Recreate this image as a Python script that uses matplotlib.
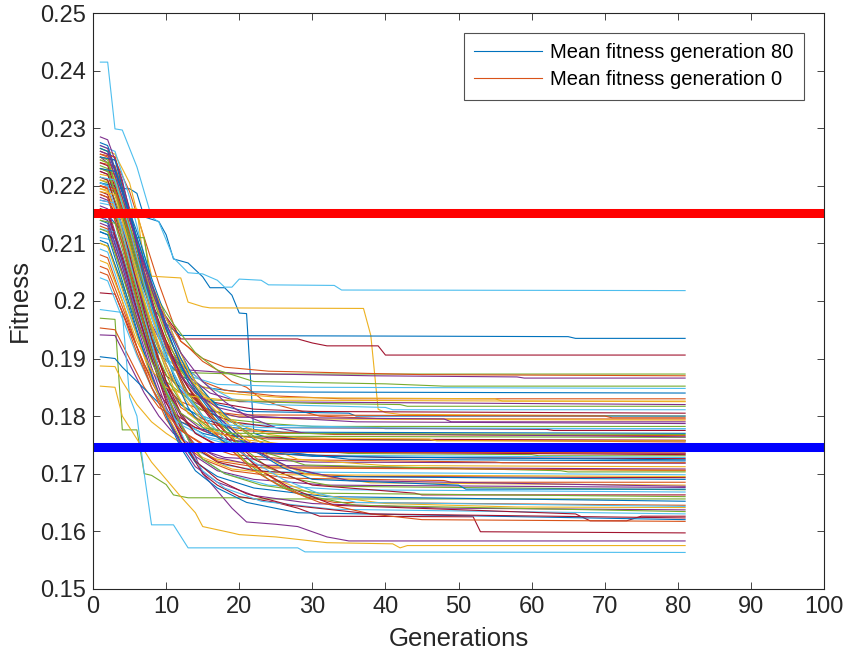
import matplotlib
import matplotlib.pyplot as plt

matplotlib.rcParams['font.family'] = ['Liberation Sans', 'DejaVu Sans']
narrow = ['Liberation Sans Narrow', 'Liberation Sans', 'DejaVu Sans']

# fitness of each run: (generation, best fitness) read at the corners of each trace
runs = [
    [(1, .2205), (3, .2195), (5, .2195), (6, .2187), (7, .2146), (9, .2138), (10, .2115), (11, .2073),
     (13, .2066), (15, .2042), (16, .2023), (18, .2023), (19, .2010), (20, .1979), (21, .1978),
     (22, .1770), (24, .1762), (30, .1760), (45, .1758), (81, .1757)],
    [(1, .2250), (3, .2245), (5, .2190), (7, .2110), (9, .2030), (11, .1960), (12, .1930), (13, .1920),
     (15, .1895), (17, .1880), (19, .1860), (21, .1850), (23, .1830), (25, .1820), (28, .1810),
     (31, .1800), (40, .1795), (81, .1795)],
    [(1, .2265), (3, .2255), (5, .2205), (7, .2105), (8, .2043), (12, .2040), (13, .1998), (15, .1990),
     (16, .1988), (37, .1987), (38, .1940), (39, .1812), (40, .1806), (42, .1803), (81, .1800)],
    [(1, .2250), (3, .2230), (5, .2100), (7, .1990), (9, .1900), (11, .1820), (13, .1760), (15, .1700),
     (17, .1670), (19, .1640), (21, .1616), (25, .1612), (28, .1608), (32, .1590), (35, .1583), (81, .1583)],
    [(1, .1970), (3, .1968), (4, .1776), (6, .1776), (7, .1700), (8, .1697), (10, .1681), (11, .1663),
     (13, .1658), (21, .1658), (22, .1656), (81, .1656)],
    [(1, .2415), (2, .2415), (3, .2299), (4, .2297), (6, .2233), (8, .2146), (9, .2137), (11, .2075),
     (13, .2049), (15, .2047), (17, .2036), (18, .2024), (19, .2024), (20, .2038), (23, .2036),
     (24, .2028), (33, .2027), (34, .2019), (81, .2018)],
    [(1, .2200), (3, .2190), (5, .2120), (7, .2040), (9, .1990), (11, .1955), (12, .1934), (28, .1934),
     (30, .1927), (32, .1922), (39, .1922), (40, .1906), (81, .1906)],
    [(1, .2155), (2, .2150), (4, .2120), (6, .2050), (8, .1990), (10, .1960), (12, .1940), (40, .1939),
     (65, .1938), (66, .1935), (81, .1935)],
    [(1, .1953), (3, .1950), (5, .1900), (7, .1850), (9, .1815), (12, .1790), (16, .1770), (24, .1760), (81, .1755)],
    [(1, .1852), (3, .1850), (4, .1800), (6, .1760), (8, .1720), (10, .1690), (12, .1660), (14, .1632),
     (15, .1608), (19, .1597), (20, .1594), (25, .1590), (32, .1580), (41, .1578), (42, .1571),
     (43, .1575), (81, .1575)],
    [(1, .1941), (3, .1940), (5, .1890), (7, .1840), (9, .1800), (11, .1770), (14, .1745), (18, .1728),
     (30, .1720), (81, .1718)],
    [(1, .2265), (2, .2260), (4, .2200), (5, .2120), (7, .2000), (9, .1920), (11, .1880), (14, .1875),
     (20, .1873), (81, .1873)],
    [(1, .1985), (4, .1980), (5, .1833), (6, .1800), (7, .1700), (8, .1611), (11, .1611), (13, .1571),
     (28, .1571), (29, .1564), (81, .1563)],
    [(1, .2230), (3, .2220), (5, .2100), (7, .1980), (9, .1880), (11, .1800), (13, .1740), (15, .1700),
     (17, .1680), (20, .1660), (25, .1650), (28, .1640), (31, .1626), (52, .1625), (53, .1599), (81, .1597)],
    [(1, .1903), (3, .1900), (4, .1885), (6, .1860), (8, .1835), (10, .1810), (12, .1790), (15, .1770),
     (20, .1755), (30, .1745), (50, .1742), (81, .1740)],
    [(1, .2240), (3, .2235), (5, .2150), (7, .2050), (9, .1990), (12, .1930), (15, .1900), (18, .1885),
     (24, .1878), (45, .1872), (81, .1870)],
    [(1, .1887), (3, .1886), (4, .1860), (6, .1820), (8, .1790), (10, .1770), (13, .1745), (17, .1725),
     (24, .1712), (81, .1705)],
    [(1, .2180), (2, .2175), (4, .2120), (6, .2030), (8, .1960), (10, .1910), (13, .1880), (20, .1874),
     (38, .1870), (58, .1868), (59, .1866), (81, .1866)],
    [(1, .2210), (3, .2200), (5, .2130), (7, .2060), (9, .2000), (11, .1960), (14, .1910), (17, .1880),
     (22, .1860), (40, .1856), (48, .1852), (81, .1852)],
    [(1, .2150), (2, .2140), (4, .2080), (6, .2000), (8, .1940), (10, .1900), (13, .1870), (17, .1855),
     (30, .1850), (81, .1848)],
    [(1, .2014), (3, .2012), (5, .1950), (7, .1890), (9, .1840), (11, .1805), (14, .1780), (19, .1765),
     (35, .1760), (81, .1758)],
    [(1, .2120), (3, .2110), (5, .2020), (7, .1960), (9, .1910), (12, .1870), (15, .1850), (20, .1842), (81, .1840)],
    [(1, .2255), (2, .2250), (4, .2180), (6, .2080), (8, .1990), (10, .1930), (12, .1890), (15, .1860),
     (18, .1845), (25, .1835), (34, .1830), (81, .1830)],
    [(1, .2195), (3, .2190), (5, .2100), (7, .2010), (9, .1940), (11, .1890), (14, .1855), (18, .1840),
     (26, .1832), (55, .1830), (56, .1826), (81, .1826)],
    [(1, .2225), (2, .2220), (4, .2150), (6, .2060), (8, .1980), (10, .1920), (13, .1870), (16, .1840),
     (20, .1825), (81, .1820)],
    [(1, .2100), (2, .2095), (4, .2030), (6, .1960), (8, .1900), (10, .1860), (12, .1840), (16, .1828),
     (30, .1822), (42, .1820), (43, .1817), (81, .1817)],
    [(1, .2270), (3, .2260), (5, .2180), (7, .2080), (9, .1990), (11, .1920), (13, .1880), (16, .1850),
     (19, .1830), (24, .1820), (40, .1815), (41, .1811), (81, .1811)],
    [(1, .2160), (2, .2150), (4, .2070), (6, .1990), (8, .1920), (10, .1870), (13, .1840), (16, .1825),
     (22, .1812), (30, .1808), (81, .1805)],
    [(1, .2205), (3, .2200), (5, .2110), (7, .2020), (9, .1950), (11, .1900), (14, .1850), (17, .1820),
     (21, .1808), (35, .1805), (36, .1800), (81, .1800)],
    [(1, .2130), (2, .2125), (4, .2050), (6, .1970), (8, .1900), (10, .1850), (12, .1825), (15, .1810),
     (20, .1802), (70, .1800), (71, .1797), (81, .1797)],
    [(1, .2245), (2, .2240), (4, .2170), (6, .2070), (8, .1980), (10, .1900), (12, .1850), (15, .1815),
     (19, .1800), (27, .1795), (81, .1793)],
    [(1, .2175), (3, .2170), (5, .2080), (7, .1990), (9, .1920), (11, .1860), (13, .1830), (16, .1810),
     (20, .1798), (48, .1795), (49, .1790), (81, .1790)],
    [(1, .2215), (2, .2210), (4, .2140), (6, .2040), (8, .1950), (10, .1880), (12, .1840), (15, .1810),
     (18, .1795), (24, .1787), (30, .1782), (81, .1782)],
    [(1, .2090), (2, .2085), (4, .2010), (6, .1940), (8, .1880), (10, .1840), (13, .1810), (16, .1795),
     (21, .1785), (39, .1780), (40, .1778), (81, .1778)],
    [(1, .2260), (3, .2250), (5, .2160), (7, .2050), (9, .1960), (11, .1890), (13, .1840), (16, .1805),
     (19, .1790), (25, .1780), (62, .1777), (63, .1775), (81, .1775)],
    [(1, .2140), (2, .2135), (4, .2060), (6, .1980), (8, .1910), (10, .1855), (12, .1820), (15, .1795),
     (19, .1780), (26, .1772), (81, .1770)],
    [(1, .2200), (2, .2195), (4, .2120), (6, .2020), (8, .1930), (10, .1860), (12, .1815), (15, .1790),
     (20, .1775), (33, .1768), (81, .1766)],
    [(1, .2230), (3, .2225), (4, .2160), (6, .2160), (7, .2060), (9, .1990), (10, .1940), (12, .1900),
     (14, .1860), (16, .1830), (18, .1800), (21, .1780), (24, .1768), (28, .1762), (46, .1760),
     (47, .1757), (81, .1757)],
    [(1, .2165), (2, .2160), (4, .2080), (6, .1990), (8, .1910), (10, .1850), (12, .1805), (15, .1775),
     (18, .1760), (24, .1750), (30, .1740), (50, .1737), (81, .1735)],
    [(1, .2250), (2, .2245), (4, .2170), (5, .2110), (7, .2110), (8, .2020), (10, .1950), (12, .1890),
     (14, .1850), (16, .1815), (19, .1790), (22, .1765), (26, .1745), (35, .1735), (60, .1733),
     (61, .1731), (81, .1731)],
    [(1, .2110), (3, .2105), (5, .2020), (7, .1940), (9, .1870), (11, .1820), (13, .1785), (16, .1760),
     (20, .1745), (30, .1732), (81, .1728)],
    [(1, .2190), (2, .2185), (4, .2110), (6, .2010), (8, .1920), (10, .1850), (12, .1800), (14, .1770),
     (17, .1750), (23, .1735), (40, .1728), (81, .1726)],
    [(1, .2275), (2, .2270), (4, .2190), (6, .2120), (8, .2040), (10, .1970), (12, .1910), (14, .1860),
     (16, .1830), (19, .1790), (22, .1760), (26, .1738), (35, .1725), (81, .1722)],
    [(1, .2060), (2, .2055), (4, .1990), (6, .1920), (8, .1860), (10, .1810), (12, .1775), (15, .1750),
     (19, .1733), (28, .1724), (55, .1720), (56, .1719), (81, .1719)],
    [(1, .2220), (3, .2215), (5, .2140), (7, .2060), (9, .2000), (11, .1940), (13, .1880), (15, .1840),
     (18, .1800), (21, .1770), (24, .1745), (28, .1725), (40, .1714), (81, .1712)],
    [(1, .2155), (2, .2150), (4, .2070), (6, .1980), (8, .1900), (10, .1830), (12, .1780), (14, .1750),
     (17, .1728), (22, .1715), (45, .1710), (81, .1708)],
    [(1, .2235), (2, .2230), (4, .2150), (6, .2060), (8, .1990), (10, .1930), (12, .1870), (14, .1830),
     (17, .1790), (20, .1760), (24, .1735), (29, .1715), (64, .1705), (65, .1703), (81, .1703)],
    [(1, .2125), (3, .2120), (5, .2030), (7, .1950), (9, .1870), (11, .1810), (13, .1765), (15, .1735),
     (18, .1715), (24, .1703), (81, .1698)],
    [(1, .2185), (2, .2180), (4, .2100), (6, .2000), (8, .1910), (10, .1835), (12, .1780), (14, .1745),
     (17, .1720), (22, .1705), (36, .1695), (81, .1693)],
    [(1, .2265), (2, .2260), (4, .2190), (6, .2110), (8, .2030), (10, .1960), (12, .1900), (14, .1850),
     (17, .1800), (20, .1765), (23, .1735), (27, .1710), (32, .1695), (81, .1690)],
    [(1, .2080), (2, .2075), (4, .2000), (6, .1920), (8, .1850), (10, .1795), (12, .1755), (15, .1725),
     (19, .1705), (27, .1692), (48, .1688), (49, .1685), (81, .1685)],
    [(1, .2210), (3, .2205), (5, .2130), (7, .2050), (9, .1980), (11, .1920), (13, .1870), (16, .1820),
     (19, .1780), (22, .1750), (25, .1720), (29, .1700), (38, .1684), (81, .1680)],
    [(1, .2145), (2, .2140), (4, .2060), (6, .1970), (8, .1885), (10, .1815), (12, .1765), (14, .1730),
     (17, .1705), (22, .1690), (32, .1680), (81, .1676)],
    [(1, .2245), (2, .2240), (4, .2170), (6, .2090), (8, .2010), (10, .1940), (12, .1880), (15, .1820),
     (18, .1775), (21, .1740), (24, .1710), (28, .1690), (33, .1678), (81, .1672)],
    [(1, .2170), (3, .2165), (5, .2070), (7, .1970), (9, .1880), (11, .1810), (13, .1760), (15, .1725),
     (18, .1700), (24, .1680), (34, .1672), (81, .1668)],
    [(1, .2225), (2, .2220), (4, .2150), (6, .2070), (8, .1990), (10, .1920), (13, .1850), (16, .1800),
     (19, .1760), (22, .1725), (26, .1700), (30, .1680), (44, .1666), (45, .1663), (81, .1663)],
    [(1, .2105), (2, .2100), (4, .2025), (6, .1945), (8, .1870), (10, .1805), (12, .1755), (14, .1720),
     (17, .1695), (22, .1675), (32, .1660), (81, .1652)],
    [(1, .2255), (3, .2250), (5, .2150), (7, .2040), (9, .1960), (11, .1900), (13, .1850), (15, .1820),
     (17, .1790), (19, .1760), (21, .1730), (23, .1705), (26, .1680), (29, .1660), (33, .1650), (81, .1645)],
    [(1, .2195), (2, .2190), (4, .2120), (6, .2040), (8, .1960), (10, .1890), (12, .1840), (15, .1790),
     (18, .1750), (21, .1720), (25, .1690), (30, .1665), (40, .1648), (58, .1642), (81, .1641)],
    [(1, .2135), (2, .2130), (4, .2050), (6, .1960), (8, .1875), (10, .1805), (12, .1750), (14, .1712),
     (17, .1685), (22, .1662), (30, .1648), (48, .1640), (81, .1637)],
    [(1, .2230), (2, .2225), (4, .2150), (6, .2070), (8, .1990), (10, .1920), (12, .1860), (15, .1800),
     (18, .1760), (21, .1720), (24, .1690), (28, .1665), (36, .1645), (81, .1634)],
    [(1, .2175), (3, .2170), (5, .2080), (7, .1980), (9, .1880), (11, .1800), (13, .1745), (15, .1705),
     (18, .1675), (23, .1652), (33, .1638), (81, .1630)],
    [(1, .2240), (2, .2235), (4, .2160), (6, .2080), (8, .2000), (10, .1930), (12, .1870), (14, .1830),
     (17, .1780), (20, .1740), (23, .1705), (27, .1675), (33, .1645), (66, .1630), (68, .1618),
     (73, .1618), (75, .1626), (81, .1626)],
    [(1, .2120), (2, .2115), (4, .2035), (6, .1950), (8, .1870), (10, .1800), (12, .1745), (14, .1705),
     (17, .1675), (21, .1650), (28, .1632), (81, .1620)],
    [(1, .2200), (3, .2195), (5, .2120), (7, .2040), (9, .1960), (11, .1890), (13, .1830), (16, .1780),
     (19, .1740), (22, .1705), (26, .1675), (31, .1650), (38, .1630), (45, .1620), (81, .1617)],
    [(1, .2070), (2, .2065), (4, .2000), (6, .1930), (8, .1880), (10, .1850), (13, .1835), (18, .1828), (81, .1825)],
    [(1, .2285), (2, .2280), (4, .2210), (6, .2100), (8, .2000), (10, .1920), (12, .1870), (14, .1840),
     (17, .1815), (22, .1800), (36, .1790), (81, .1787)],
    [(1, .2160), (3, .2155), (5, .2060), (7, .1975), (9, .1900), (11, .1845), (13, .1805), (16, .1780),
     (20, .1765), (81, .1763)],
    [(1, .2040), (2, .2035), (4, .1970), (6, .1905), (8, .1850), (10, .1810), (12, .1785), (15, .1765),
     (20, .1752), (28, .1747), (81, .1745)],
    [(1, .2215), (2, .2210), (4, .2130), (6, .2030), (8, .1935), (10, .1860), (12, .1805), (14, .1770),
     (17, .1748), (24, .1738), (81, .1733)],
    [(1, .2250), (3, .2245), (5, .2150), (7, .2040), (9, .1945), (11, .1870), (13, .1815), (15, .1780),
     (18, .1755), (21, .1740), (30, .1730), (81, .1724)],
    [(1, .2185), (2, .2180), (4, .2100), (6, .2005), (8, .1915), (10, .1840), (12, .1785), (14, .1748),
     (17, .1722), (23, .1710), (81, .1706)],
    [(1, .2100), (2, .2095), (4, .2020), (6, .1940), (8, .1865), (10, .1805), (12, .1760), (15, .1728),
     (19, .1708), (26, .1698), (81, .1695)],
    [(1, .2270), (2, .2265), (4, .2190), (6, .2100), (8, .2020), (10, .1950), (12, .1890), (14, .1845),
     (17, .1800), (20, .1765), (23, .1735), (27, .1710), (35, .1688), (81, .1678)],
    [(1, .2140), (3, .2135), (5, .2045), (7, .1955), (9, .1875), (11, .1810), (13, .1760), (15, .1725),
     (18, .1700), (23, .1680), (31, .1666), (81, .1660)],
    [(1, .2205), (2, .2200), (4, .2130), (6, .2050), (8, .1970), (10, .1900), (12, .1850), (15, .1800),
     (18, .1760), (22, .1720), (26, .1690), (31, .1665), (36, .1650), (81, .1643)],
    [(1, .2160), (2, .2155), (4, .2075), (6, .1985), (8, .1900), (10, .1825), (12, .1765), (14, .1722),
     (17, .1690), (21, .1665), (27, .1645), (38, .1630), (81, .1623)],
    [(1, .2230), (3, .2225), (5, .2150), (7, .2070), (9, .1990), (11, .1920), (13, .1860), (16, .1810),
     (19, .1770), (22, .1740), (26, .1710), (30, .1690), (50, .1680), (51, .1673), (81, .1673)],
    [(1, .2050), (2, .2045), (4, .1980), (6, .1910), (8, .1850), (10, .1805), (12, .1775), (15, .1752),
     (19, .1738), (81, .1736)],
    [(1, .2190), (3, .2185), (5, .2095), (7, .2000), (9, .1915), (11, .1850), (13, .1805), (16, .1775),
     (20, .1760), (27, .1750), (81, .1748)],
    [(1, .2260), (2, .2255), (4, .2180), (6, .2100), (8, .2030), (10, .1960), (12, .1910), (15, .1860),
     (18, .1825), (21, .1800), (25, .1780), (29, .1770), (81, .1764)],
    [(1, .2125), (2, .2120), (4, .2045), (6, .1965), (8, .1895), (10, .1840), (12, .1805), (15, .1780),
     (19, .1770), (81, .1768)],
    [(1, .2215), (3, .2210), (5, .2125), (7, .2030), (9, .1945), (11, .1875), (13, .1830), (15, .1800),
     (18, .1785), (23, .1780), (81, .1778)],
]

mean_gen0 = 0.2153
mean_gen80 = 0.1746
legend_labels = ['Mean fitness generation 80', 'Mean fitness generation 0']

matlab_colors = ['#0072BD', '#D95319', '#EDB120', '#7E2F8E', '#77AC30', '#4DBEEE', '#A2142F']

fig = plt.figure(figsize=(8.46, 6.6), dpi=100)
ax = fig.add_axes([0.110, 0.108, 0.864, 0.872])

handles = []
for i, run in enumerate(runs):
    g = [p[0] for p in run]
    f = [p[1] for p in run]
    h, = ax.plot(g, f, color=matlab_colors[i % 7], lw=0.8)
    handles.append(h)

ax.axhline(mean_gen0, color='#FF0000', lw=6.5)
ax.axhline(mean_gen80, color='#0000FF', lw=6.5)

ax.set_xlim(0, 100)
ax.set_ylim(0.15, 0.25)
ax.set_xticks(range(0, 101, 10))
ax.set_yticks([0.15, 0.16, 0.17, 0.18, 0.19, 0.2, 0.21, 0.22, 0.23, 0.24, 0.25])
ax.set_yticklabels(['0.15', '0.16', '0.17', '0.18', '0.19', '0.2', '0.21', '0.22', '0.23', '0.24', '0.25'])
ax.tick_params(direction='in', length=5, width=0.6, colors='#262626', labelsize=17,
               top=True, right=True, pad=5)
for lab in ax.get_xticklabels() + ax.get_yticklabels():
    lab.set_family(narrow)
for s in ax.spines.values():
    s.set_color('#262626')
    s.set_linewidth(0.8)

ax.set_xlabel('Generations', fontsize=18.5, color='#262626', labelpad=7, family=narrow)
ax.set_ylabel('Fitness', fontsize=18.5, color='#262626', labelpad=6, family=narrow)

leg = ax.legend(handles[:2], legend_labels, loc='upper right', fontsize=14.5,
                handlelength=3.4, handletextpad=0.4, labelspacing=0.4,
                borderaxespad=1.0, borderpad=0.5, fancybox=False, edgecolor='#262626')
leg.get_frame().set_linewidth(0.8)

fig.savefig('out.png', dpi=100)
